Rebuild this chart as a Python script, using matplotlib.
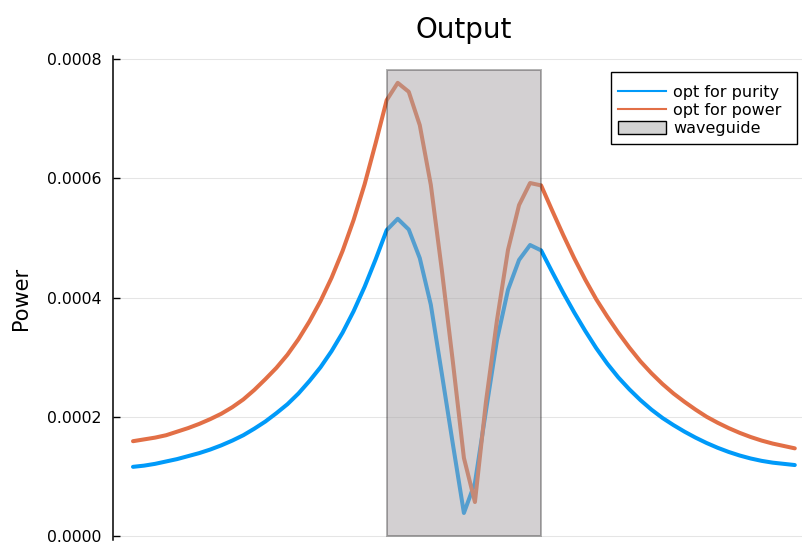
import numpy as np
import matplotlib
matplotlib.use("Agg")
import matplotlib.pyplot as plt
from matplotlib.patches import Rectangle, Patch
from matplotlib.lines import Line2D

# ---- data ----
x = np.arange(-30, 31)

purity = [
    0.000116, 0.000118, 0.000121, 0.000125, 0.000129, 0.000134, 0.000139, 0.000145,
    0.000152, 0.000160, 0.000169, 0.000180, 0.000192, 0.000206, 0.000221, 0.000239,
    0.000260, 0.000283, 0.000310, 0.000341, 0.000377, 0.000418, 0.000464,
    0.000513, 0.000532, 0.000514, 0.000466, 0.000388, 0.000272, 0.000154, 0.0000386,
    0.000089, 0.000210, 0.000329, 0.000413, 0.000463, 0.000488, 0.000479,
    0.000443, 0.000408, 0.000375, 0.000344, 0.000315, 0.000289, 0.000266, 0.000246,
    0.000228, 0.000212, 0.000198, 0.000186, 0.000175, 0.000165, 0.000156, 0.000148,
    0.000141, 0.000135, 0.000130, 0.000126, 0.000123, 0.000121, 0.000119,
]

power = [
    0.000159, 0.000162, 0.000165, 0.000169, 0.000175, 0.000181, 0.000188, 0.000196,
    0.000205, 0.000216, 0.000229, 0.000245, 0.000263, 0.000282, 0.000304, 0.000330,
    0.000360, 0.000394, 0.000433, 0.000478, 0.000530, 0.000590, 0.000659,
    0.000731, 0.000760, 0.000745, 0.000689, 0.000589, 0.000446, 0.000292, 0.000131,
    0.000057, 0.000225, 0.000362, 0.000480, 0.000555, 0.000592, 0.000588,
    0.000546, 0.000505, 0.000466, 0.000430, 0.000397, 0.000368, 0.000341, 0.000316,
    0.000293, 0.000273, 0.000255, 0.000239, 0.000225, 0.000212, 0.000200, 0.000190,
    0.000181, 0.000173, 0.000166, 0.000160, 0.000155, 0.000151, 0.000147,
]

wg_start, wg_end, wg_height = -7, 7, 0.000781

yticks = [0.0, 0.0002, 0.0004, 0.0006, 0.0008]
ytick_labels = ["0.0000", "0.0002", "0.0004", "0.0006", "0.0008"]

labels = ["opt for purity", "opt for power", "waveguide"]
colors = ["#009AF9", "#E26F46"]

# ---- figure ----
W, H = 803, 544
fig = plt.figure(figsize=(W / 100, H / 100), dpi=100)
ax = fig.add_axes([113 / W, 4 / H, 690 / W, 484 / H])

lw = 2.9
ax.plot(x, purity, color=colors[0], lw=lw, solid_capstyle="round",
        solid_joinstyle="round", zorder=3)
ax.plot(x, power, color=colors[1], lw=lw, solid_capstyle="round",
        solid_joinstyle="round", zorder=3)

rect = Rectangle((wg_start, 0), wg_end - wg_start, wg_height,
                 facecolor=(0.66, 0.64, 0.65, 0.5),
                 edgecolor=(0.0, 0.0, 0.0, 0.3), lw=1.4, zorder=4)
ax.add_patch(rect)

step = 11.03
ax.set_xlim(-30 - 20 / step, -30 + 670 / step)
ax.set_ylim(-4 * 0.0008 / 477, 0.0008 + 3 * 0.0008 / 477)

ax.set_yticks(yticks)
ax.set_yticklabels(ytick_labels)
ax.set_xticks([])
ax.tick_params(axis="y", direction="in", length=5, width=1, labelsize=11.3, pad=8.5)
ax.grid(axis="y", color="black", alpha=0.1, lw=0.8)
ax.set_axisbelow(True)

for s in ["top", "right", "bottom"]:
    ax.spines[s].set_visible(False)
ax.spines["left"].set_linewidth(1.1)

ax.set_title("Output", fontsize=20, x=(464 - 113) / 690, y=1.0, pad=13)
ax.set_ylabel("Power", fontsize=15, labelpad=11.5)

# legend frame (drawn separately to match the reference box)
frame = Rectangle((611 / W, 1 - 144 / H), (797 - 611) / W, (144 - 72) / H,
                  transform=fig.transFigure, facecolor="white",
                  edgecolor="black", lw=1.0, zorder=4.5, clip_on=False)
ax.add_patch(frame)

handles = [
    Line2D([0], [0], color=colors[0], lw=1.5),
    Line2D([0], [0], color=colors[1], lw=1.5),
    Patch(facecolor="lightgray", edgecolor="black", lw=1),
]
leg = ax.legend(handles, labels, loc="upper left",
                bbox_to_anchor=(618 / W, 1 - 85 / H),
                bbox_transform=fig.transFigure,
                borderaxespad=0, borderpad=0, fontsize=11.5, frameon=False,
                labelspacing=0.2, handlelength=3.0, handletextpad=0.45,
                handleheight=0.85)
leg.set_zorder(5)

fig.savefig("out.png", dpi=100)
